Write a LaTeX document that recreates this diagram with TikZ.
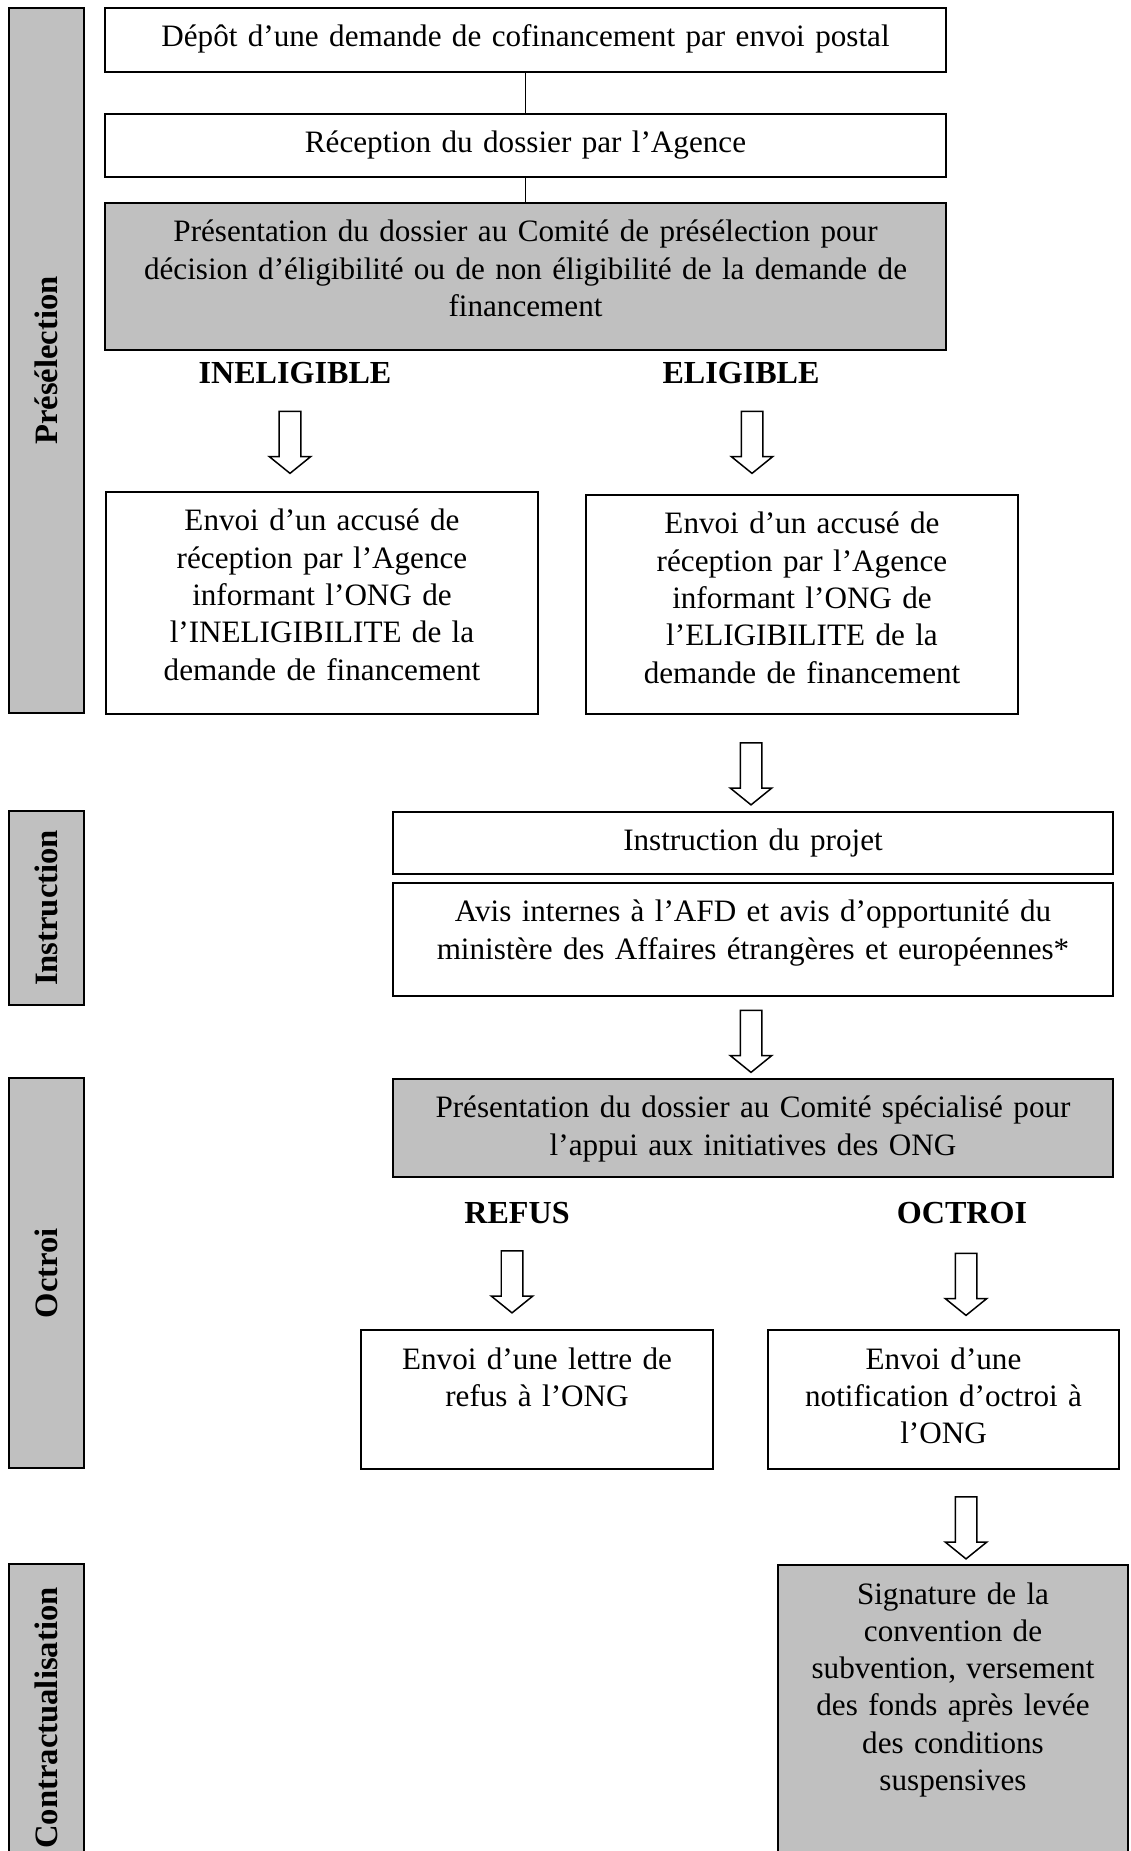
\documentclass[tikz,border=0pt]{standalone}
\usepackage{fontspec}
\setmainfont{Liberation Serif}
\usetikzlibrary{shapes.arrows}
\definecolor{panelgrey}{RGB}{192,192,192}
\tikzset{
    stepbox/.style={draw, line width=0.6pt, anchor=north, align=center,
        inner sep=0pt, text height=14.4pt, font=\fontsize{11.45pt}{13.7pt}\selectfont},
    greybox/.style={stepbox, fill=panelgrey},
    phase/.style={draw, line width=1pt, fill=panelgrey, rotate=90, inner sep=0pt,
        minimum height=27.6pt, font=\fontsize{12pt}{13.7pt}\selectfont\bfseries},
    verdict/.style={font=\fontsize{11.8pt}{13.7pt}\selectfont\bfseries},
    blockarrow/.style={single arrow, draw, line width=0.55pt, fill=white,
        minimum height=22.8pt, inner sep=3.68pt, single arrow head extend=3.68pt,
        single arrow tip angle=102, rotate=-90}
}
\begin{document}
\begin{tikzpicture}[x=0.3676pt, y=-0.3676pt]
            \useasboundingbox[fill=white] (0, 0) rectangle (1130, 1851);
            \clip (0, 0) rectangle (1130, 1851);
            \node[phase, minimum width=259.2pt] (pre) at (46.5, 360.5) {Présélection};
            \node[phase, minimum width=71.3pt] (ins) at (46.5, 908) {Instruction};
            \node[phase, minimum width=143.4pt] (oct) at (46.5, 1273) {Octroi};
            \node[phase, minimum width=113.2pt] (con) at (46.5, 1718) {Contractualisation};
            \node[stepbox, text width=309.2pt, text depth=9.1pt] (dep) at (525.5, 7) {
                Dépôt d’une demande de cofinancement par envoi postal
            };
            \node[stepbox, text width=309.2pt, text depth=8.8pt] (rec) at (525.5, 113) {
                Réception du dossier par l’Agence
            };
            \node[greybox, text width=309.2pt, text depth=39.6pt] (comp) at (525.5, 202) {
                Présentation du dossier au Comité de présélection pour\\
                décision d’éligibilité ou de non éligibilité de la demande de\\
                financement
            };
            \draw[line width=0.45pt] (dep) -- (rec);
            \draw[line width=0.45pt] (rec) -- (comp);
            \node[verdict] (inel) at (295, 373) {INELIGIBLE};
            \node[verdict] (elig) at (741, 373) {ELIGIBLE};
            \node[blockarrow] (a1) at (290, 438) {};
            \node[blockarrow] (a2) at (752, 438) {};
            \node[stepbox, text width=158.8pt, text depth=67.2pt] (binel) at (322, 491) {
                Envoi d’un accusé de\\
                réception par l’Agence\\
                informant l’ONG de\\
                l’INELIGIBILITE de la\\
                demande de financement
            };
            \node[stepbox, text width=158.8pt, text depth=66.1pt] (belig) at (802, 494) {
                Envoi d’un accusé de\\
                réception par l’Agence\\
                informant l’ONG de\\
                l’ELIGIBILITE de la\\
                demande de financement
            };
            \node[blockarrow] (a3) at (751, 769.5) {};
            \node[stepbox, text width=264.7pt, text depth=8.4pt] (instr) at (753, 811) {
                Instruction du projet
            };
            \node[stepbox, text width=264.7pt, text depth=27.1pt] (avis) at (753, 882) {
                Avis internes à l’AFD et avis d’opportunité du\\
                ministère des Affaires étrangères et européennes*
            };
            \node[blockarrow] (a4) at (751, 1037) {};
            \node[greybox, text width=264.7pt, text depth=21.6pt] (comsp) at (753, 1078) {
                Présentation du dossier au Comité spécialisé pour\\
                l’appui aux initiatives des ONG
            };
            \node[verdict] (refus) at (517, 1213) {REFUS};
            \node[verdict] (octr) at (962, 1213) {OCTROI};
            \node[blockarrow] (a5) at (512, 1277.5) {};
            \node[blockarrow] (a6) at (966, 1280) {};
            \node[stepbox, text width=129.4pt, text depth=36.7pt] (brefus) at (537, 1329) {
                Envoi d’une lettre de\\
                refus à l’ONG
            };
            \node[stepbox, text width=129pt, text depth=36.7pt] (boctr) at (943.5, 1329) {
                Envoi d’une\\
                notification d’octroi à\\
                l’ONG
            };
            \node[blockarrow] (a7) at (966, 1523.5) {};
            \node[greybox, text width=128.7pt, text depth=101.8pt] (sign) at (953, 1564) {
                Signature de la\\
                convention de\\
                subvention, versement\\
                des fonds après levée\\
                des conditions\\
                suspensives
            };
        \end{tikzpicture}
\end{document}
